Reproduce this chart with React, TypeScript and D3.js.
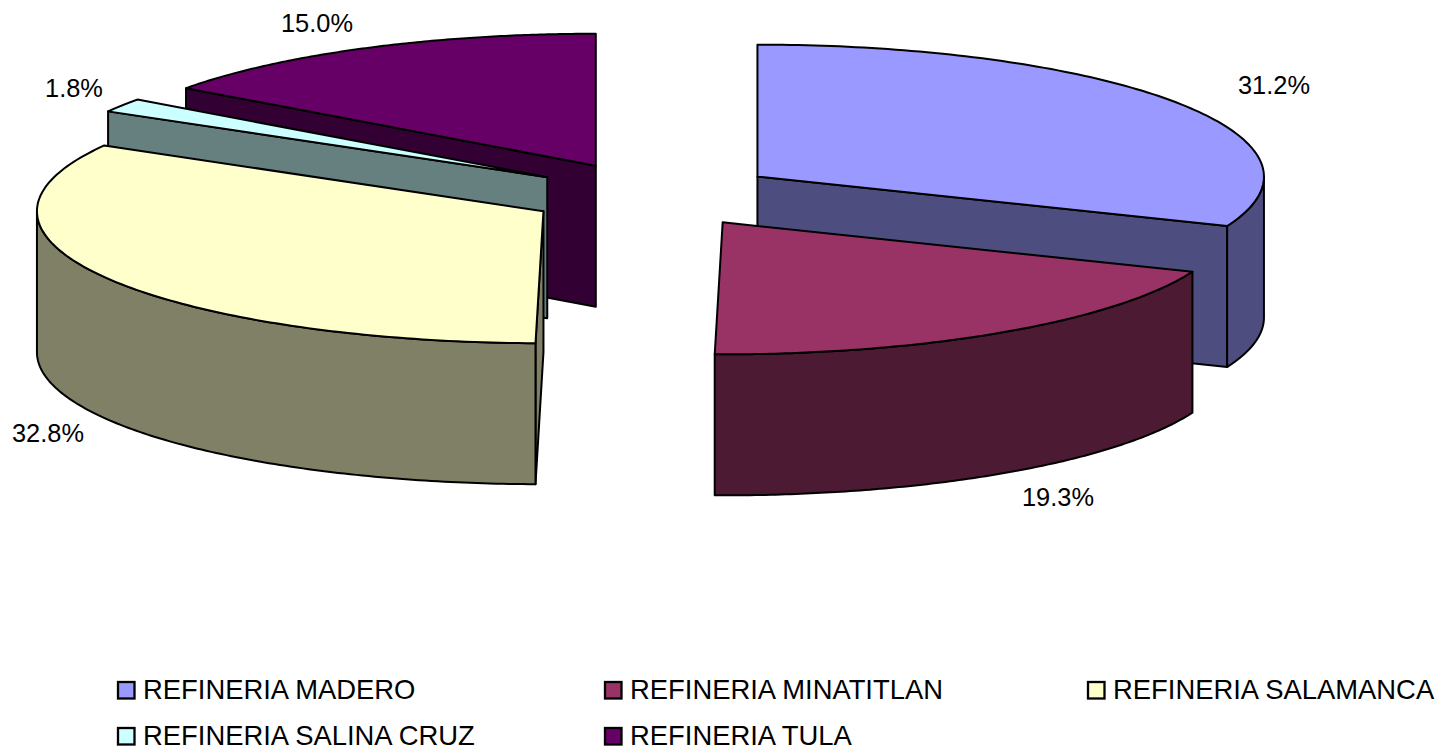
import React from "react";
import * as d3 from "d3";

const categories = ["REFINERIA MADERO", "REFINERIA MINATITLAN", "REFINERIA SALAMANCA", "REFINERIA SALINA CRUZ", "REFINERIA TULA"];
const shares = [31.1, 19.15, 33.05, 1.7, 15.0];
const shareLabels = ["31.2%", "19.3%", "32.8%", "1.8%", "15.0%"];
const topColors = ["#9999FF", "#993366", "#FFFFCC", "#CCFFFF", "#660066"];
const sideColors = ["#4D4D80", "#4D1A33", "#808066", "#668080", "#330033"];
const labelPos = [[1274, 85], [1058, 497], [48, 433], [74, 88], [317, 23]];
const legendPos = [[118, 690], [605, 690], [1088, 690], [118, 736], [605, 736]];

const CX = 653, CY = 195, RX = 506.5, RY = 132, DEPTH = 141, EXPLODE = 126;
const FONT = "'Liberation Sans', Arial, sans-serif";

const pie = d3.pie<number>().sort(null)(shares);
const drawOrder = [4, 3, 2, 0, 1];
const line = d3.line<number[]>().x(p => p[0]).y(p => p[1]);

function App() {
  const slices = drawOrder.map(i => {
    const { startAngle: a, endAngle: b } = pie[i];
    const mid = (a + b) / 2;
    const cx = CX + EXPLODE * Math.sin(mid);
    const cy = CY - (EXPLODE * RY / RX) * Math.cos(mid);
    const pt = (t: number, dz = 0) => [cx + RX * Math.sin(t), cy - RY * Math.cos(t) + dz];
    const arcPts = (s: number, e: number, dz = 0) =>
      d3.range(0, 121).map(k => pt(s + ((e - s) * k) / 120, dz));
    const top = line([[cx, cy], ...arcPts(a, b)]) + "Z";
    const faces: string[] = [];
    if (Math.sin(a) < 0) faces.push(line([[cx, cy], pt(a), pt(a, DEPTH), [cx, cy + DEPTH]]) + "Z");
    if (Math.sin(b) > 0) faces.push(line([[cx, cy], pt(b), pt(b, DEPTH), [cx, cy + DEPTH]]) + "Z");
    const ws = Math.max(a, Math.PI / 2), we = Math.min(b, (3 * Math.PI) / 2);
    const wall = ws < we ? line([...arcPts(ws, we), ...arcPts(ws, we, DEPTH).reverse()]) + "Z" : null;
    return { i, top, faces, wall };
  });

  return (
    <svg width={1447} height={752} style={{ position: "absolute", left: 0, top: 0, background: "#fff" }} fontFamily={FONT}>
      {slices.map(s => (
        <g key={s.i} stroke="#000" strokeWidth={2} strokeLinejoin="round">
          {s.faces.map((f, k) => <path key={k} d={f} fill={sideColors[s.i]} />)}
          {s.wall && <path d={s.wall} fill={sideColors[s.i]} />}
          <path d={s.top} fill={topColors[s.i]} />
        </g>
      ))}
      {shareLabels.map((t, i) => (
        <text key={t} x={labelPos[i][0]} y={labelPos[i][1]} fontSize={25.4} textAnchor="middle" dominantBaseline="central" fill="#000">{t}</text>
      ))}
      {categories.map((c, i) => (
        <g key={c}>
          <rect x={legendPos[i][0]} y={legendPos[i][1] - 8} width={16.5} height={16.5} fill={topColors[i]} stroke="#000" strokeWidth={2.3} />
          <text x={legendPos[i][0] + 25} y={legendPos[i][1] - 0.5} fontSize={27.4} dominantBaseline="central" fill="#000">{c}</text>
        </g>
      ))}
    </svg>
  );
}

export default App;
